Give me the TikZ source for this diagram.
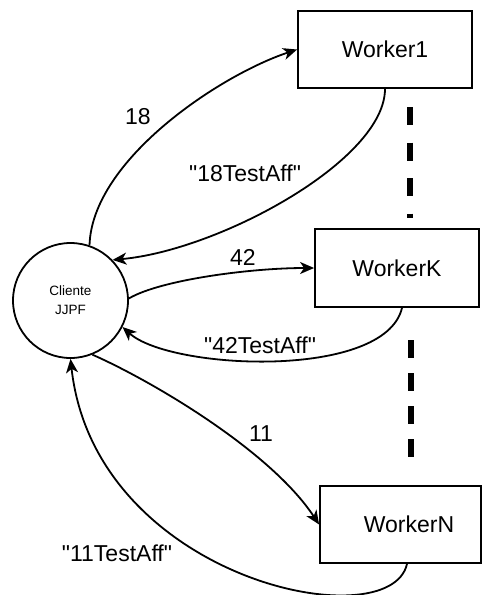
\documentclass[tikz,border=0pt]{standalone}
\usepackage{fontspec}
\setmainfont{Liberation Sans}[Ligatures=TeXOff]
\usetikzlibrary{arrows.meta,calc}
\begin{document}
\begin{tikzpicture}[x=1pt,y=-1pt,line width=1.8pt,
  box/.style={draw,rectangle,inner sep=0pt,font=\fontsize{23}{27}\selectfont},
  lbl/.style={inner sep=0pt,font=\fontsize{23}{27}\selectfont},
  arr/.style={-{Stealth[length=14pt,width=12pt,inset=4pt]}},
  sepa/.style={line width=6pt,dash pattern=on 18pt off 17.5pt},
  sepb/.style={line width=6pt,dash pattern=on 18pt off 15pt}]
\useasboundingbox (0,0) rectangle (483,595);
% nodes
\node[box,minimum width=174pt,minimum height=77pt] (w1) at (385,49.5) {Worker1};
\node[box,minimum width=164pt,minimum height=78pt] (wk) at (397,268) {WorkerK};
\node[box,minimum width=161pt,minimum height=77pt] (wn) at (400.5,524.5) {};
\node[lbl] (wnt) at (409,524) {WorkerN};
\node[draw,circle,minimum size=115pt,inner sep=0pt,align=center,
      font=\fontsize{13.5}{19}\selectfont] (c) at (70.5,300.5) {Cliente\\JJPF};
% connectors
\draw[arr] (c.71) .. controls (92,160) and (220,75) .. (w1.west);
\draw[arr] (w1.south) .. controls (385,160) and (220,250) .. (c.44);
\draw[arr] (c.2) .. controls (160,280) and (250,268) .. (wk.west);
\draw[arr] ([xshift=5pt]wk.south) .. controls (385,380) and (170,370) .. (c.-27);
\draw[arr] (c.-68) .. controls (150,380) and (270,450) .. (wn.west);
\draw[arr] ([xshift=6.5pt]wn.south) .. controls (390,640) and (95,580) .. (c.south);
% labels
\node[lbl] (l18) at (138,117) {18};
\node[lbl] (l18r) at (245,173) {"18TestAff"};
\node[lbl] (l42) at (243,257.5) {42};
\node[lbl] (l42r) at (260,345) {"42TestAff"};
\node[lbl] (l11) at (261,434) {11};
\node[lbl] (l11r) at (117,553) {"11TestAff"};
% dashed separators
\coordinate (d1a) at (410,107);
\coordinate (d1b) at (410,218);
\coordinate (d2a) at (411,340);
\coordinate (d2b) at (411,457);
\draw[sepa] (d1a) -- (d1b);
\draw[sepb] (d2a) -- (d2b);
\end{tikzpicture}
\end{document}
